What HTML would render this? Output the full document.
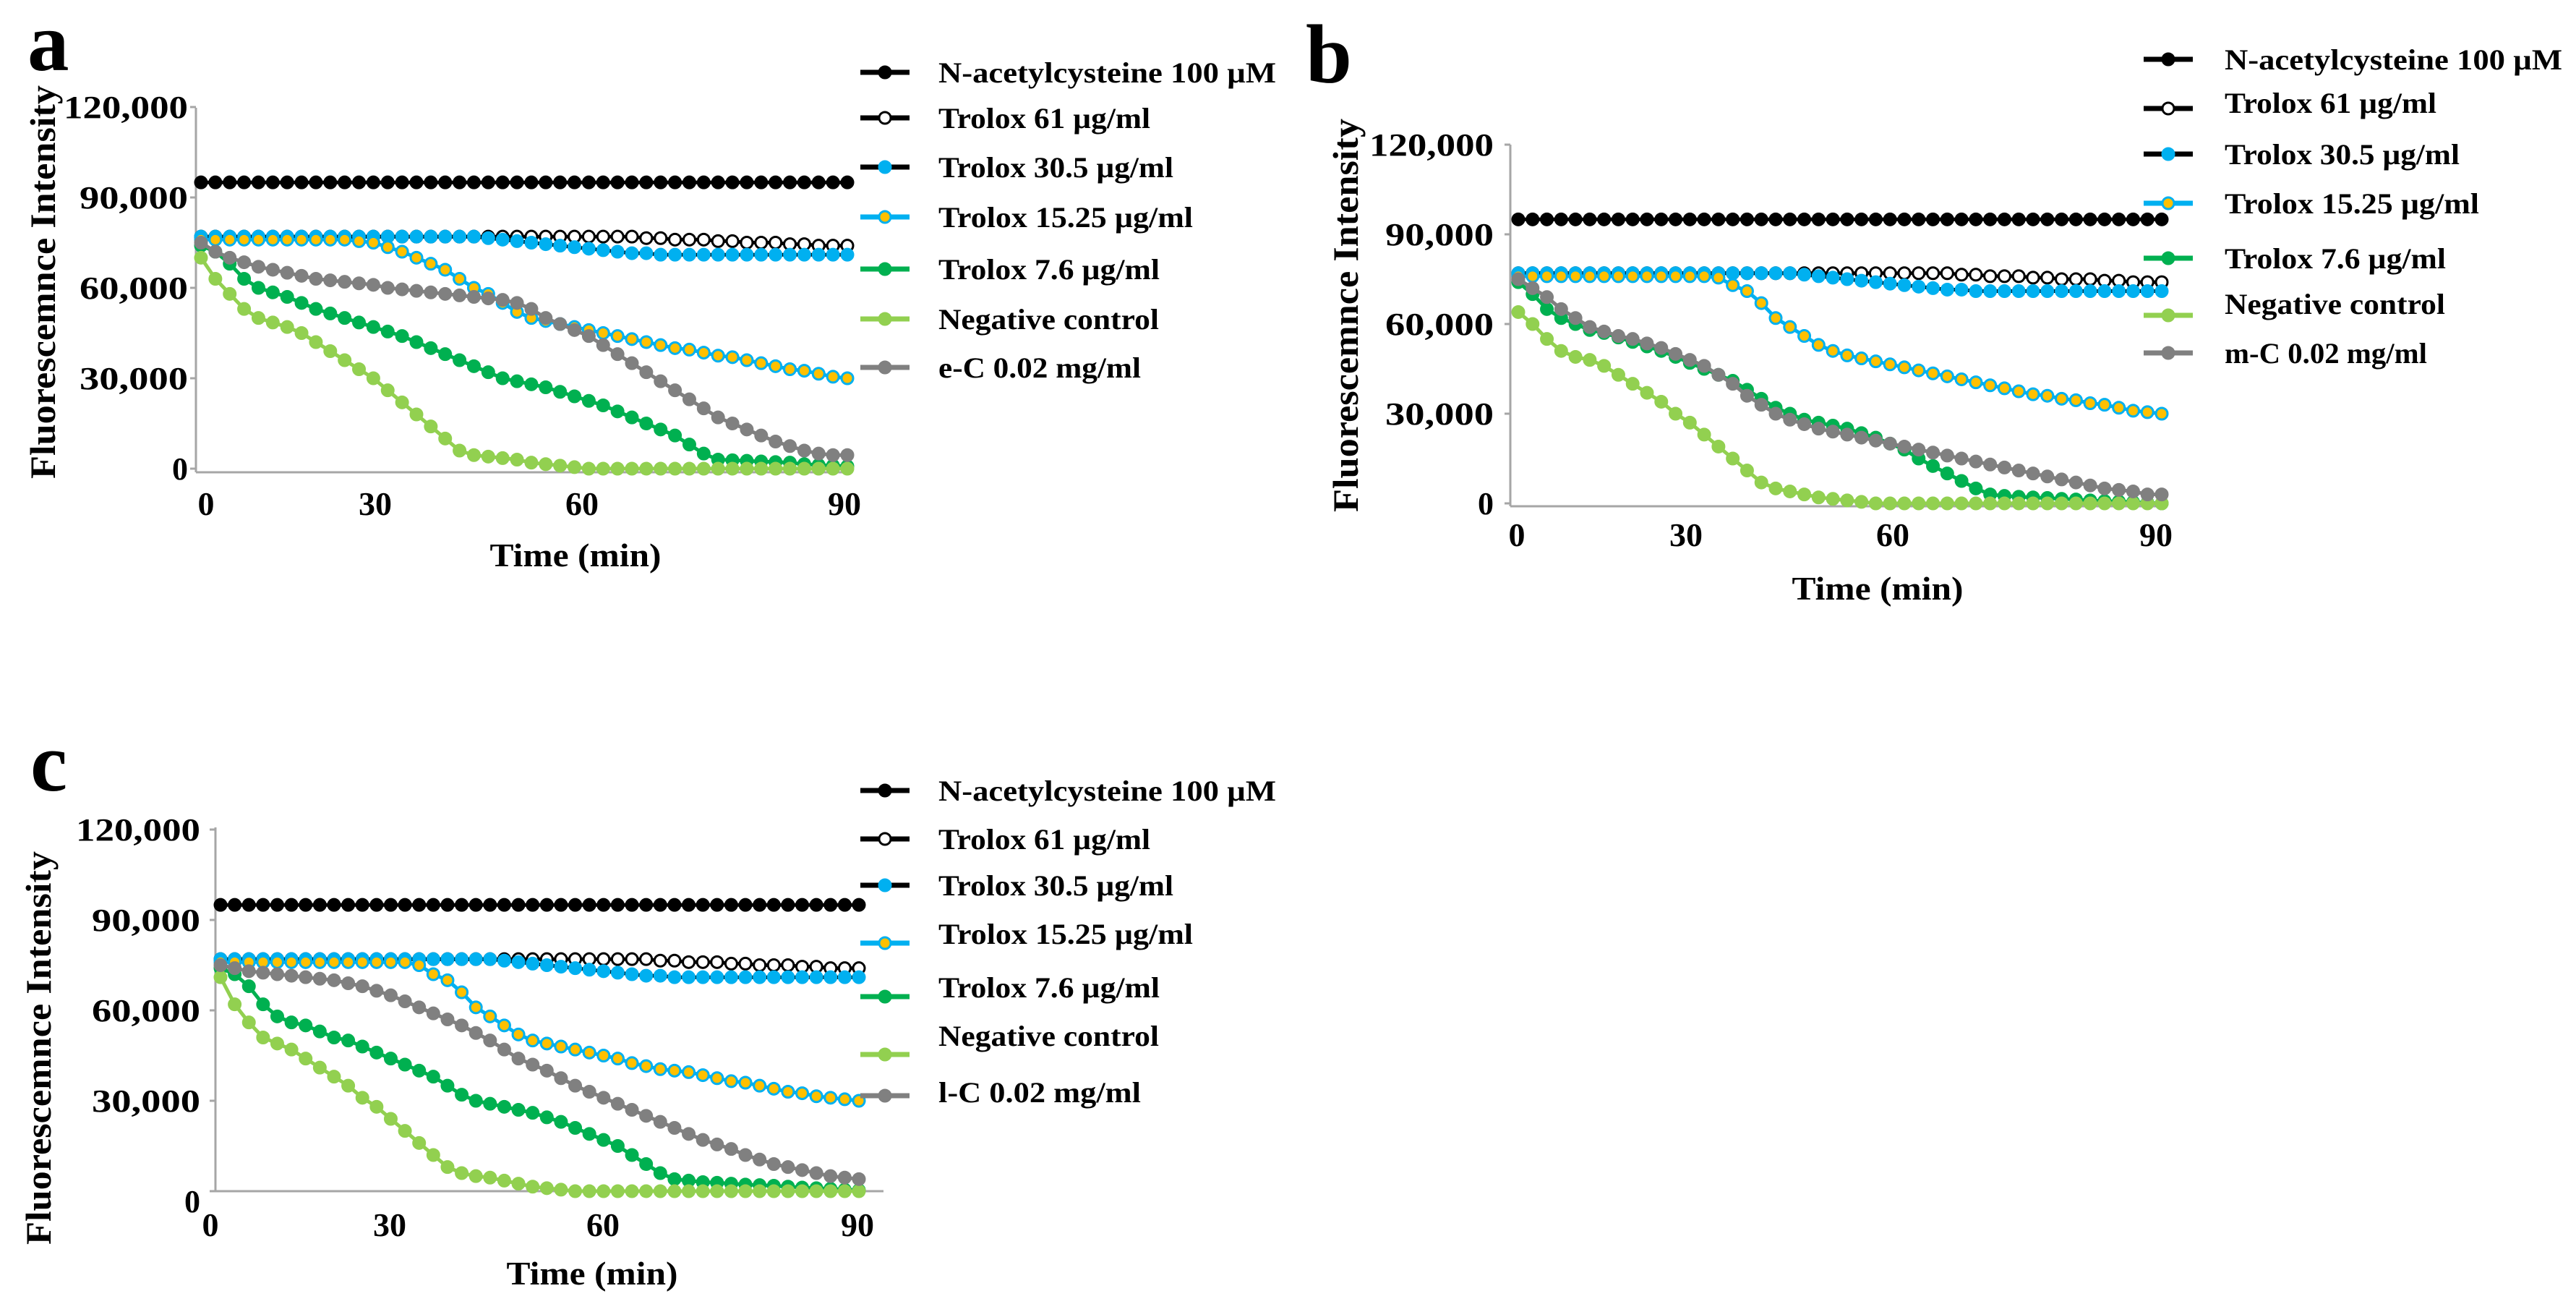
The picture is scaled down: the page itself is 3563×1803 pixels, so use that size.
<!DOCTYPE html>
<html><head><meta charset="utf-8">
<style>
html,body{margin:0;padding:0;background:#fff;}
svg{display:block;}
text{font-family:"Liberation Serif",serif;font-weight:bold;fill:#000;}
</style></head>
<body>
<svg id="fig" width="3563" height="1803" viewBox="0 0 3563 1803" xmlns="http://www.w3.org/2000/svg">
<rect width="3563" height="1803" fill="#fff"/>
</svg>
<script>
const times = [0,2,4,6,8,10,12,14,16,18,20,22,24,26,28,30,32,34,36,38,40,42,44,46,48,50,52,54,56,58,60,62,64,66,68,70,72,74,76,78,80,82,84,86,88,90];
const yTicks = [0,30000,60000,90000,120000];
const yTickLabels = ["0","30,000","60,000","90,000","120,000"];
const xTickLabels = ["0","30","60","90"];
const seriesNames = ["N-acetylcysteine 100 µM","Trolox 61 µg/ml","Trolox 30.5 µg/ml","Trolox 15.25 µg/ml","Trolox 7.6 µg/ml","Negative control"];
const sampleNames = ["e-C 0.02 mg/ml","m-C 0.02 mg/ml","l-C 0.02 mg/ml"];

// values in thousands
const nac = [95,95,95,95,95,95,95,95,95,95,95,95,95,95,95,95,95,95,95,95,95,95,95,95,95,95,95,95,95,95,95,95,95,95,95,95,95,95,95,95,95,95,95,95,95,95];
const t61 = [77,77,77,77,77,77,77,77,77,77,77,77,77,77,77,77,77,77,77,77,77,77,77,77,77,77,77,77,77,77,77,76.5,76.5,76,76,76,75.5,75.5,75,75,75,74.5,74.5,74,74,74];
const t305 = [77,77,77,77,77,77,77,77,77,77,77,77,77,77,77,77,77,77,77,77,76.5,76,75.5,75,74.5,74,73.5,73,72.5,72,71.5,71.5,71,71,71,71,71,71,71,71,71,71,71,71,71,71];
const a_t1525 = [76,76,76,76,76,76,76,76,76,76,76,75.5,75,73.5,72,70,68,66,63,60,58,55,52,50,49,48,47,46,45,44,43,42,41,40,39.5,38.5,37.5,37,36,35,34,33,32.5,31.5,30.5,30];
const a_t76 = [74,72,68,63,60,58.5,57,55,53,51.5,50,48.5,47,45.5,44,42,40,38,36,34,32,30,29,28,27,25.5,24,22.5,21,19,17,15,13,11,8,5,3,2.8,2.6,2.4,2.2,2,1.5,1.2,1,0.8];
const a_neg = [70,63,58,53,50,48.5,47,45,42,39,36,33,30,26,22,18,14,10,6,4.5,4,3.5,3,2,1.5,1,0.5,0,0,0,0,0,0,0,0,0,0,0,0,0,0,0,0,0,0,0];
const a_sample = [75,72,70,68.5,67,66,65,64,63,62.5,62,61.5,61,60,59.5,59,58.5,58,57.5,57,56.5,56,55,53,50,48,46,44,41,38,35,32,29,26,23,20,17,15,13,11,9,7.5,6,5,4.5,4.5];
const b_t1525 = [76,76,76,76,76,76,76,76,76,76,76,76,76,76,75.5,73,71,67,62,59,56,53,51,49.5,48.5,47.5,46.5,45.5,44.5,43.5,42.5,41.5,40.5,39.5,38.5,37.5,36.5,36,35,34.5,33.5,33,32,31,30.5,30];
const b_t76 = [74,70,65,62,60,58,57,55.5,54,52.5,51,49,47,45,43,41,38,35,32,30,28,27,26,25,23.5,22,20,18,15,12.5,10,7.5,5,3,2.5,2.2,2,1.8,1.5,1.3,1,0.8,0.6,0.4,0.2,0];
const b_neg = [64,60,55,51,49,48,46,43,40,37,34,30,27,23,19,15,11,7,5,4,3,2,1.5,1,0.5,0,0,0,0,0,0,0,0,0,0,0,0,0,0,0,0,0,0,0,0,0];
const b_sample = [75,72,69,65,62,59,57.5,56,55,53.5,52,50,48,46,43,40,36,33,30,28,26.5,25,24,23,22,21,20,19,18,17,16,15,14,13,12,11,10,9,8,7,6,5,4.5,4,3,3];
const c_t1525 = [76,76,76,76,76,76,76,76,76,76,76,76,76,76,75,72,70,66,61,58,55,52,50,49,48,47,46,45,44,42.5,41.5,40.5,40,39.5,38.5,37.5,36.5,36,35,34,33,32.5,31.5,31,30.5,30];
const c_t76 = [74,72,68,62,58,56,55,53,51,50,48,46,44,42,40,38,35,32,30,29,28,27,26,24.5,23,21,19,17,15,12,9,6,4,3.5,3,2.8,2.5,2.2,2,1.8,1.5,1.2,1,0.8,0.5,0.3];
const c_neg = [71,62,56,51,49,47,44,41,38,35,31,28,24,20,16,12,8,6,5,4.5,3.5,2.5,1.5,1,0.5,0,0,0,0,0,0,0,0,0,0,0,0,0,0,0,0,0,0,0,0,0];
const c_sample = [75,74,73,72.5,72,71.5,71,70.5,70,69,68,66.5,65,63,61,59,57,55,52.5,50,47,44,42,40,37.5,35,33,31,29,27,25,23,21,19,17,15.5,14,12,10.5,9,8,7,6,5,4.5,4];

const NS = "http://www.w3.org/2000/svg";
const svg = document.getElementById("fig");
function mk(tag, attrs, parent){
  const e = document.createElementNS(NS, tag);
  for (const k in attrs) e.setAttribute(k, attrs[k]);
  (parent||svg).appendChild(e);
  return e;
}
const styles = [
  {line:"#000", fill:"#000", stroke:"#000"},
  {line:"#000", fill:"#fff", stroke:"#000"},
  {line:"#000", fill:"#00b0f0", stroke:"#00b0f0"},
  {line:"#00b0f0", fill:"#ffc000", stroke:"#00b0f0"},
  {line:"#00b050", fill:"#00b050", stroke:"#00b050"},
  {line:"#92d050", fill:"#92d050", stroke:"#92d050"},
  {line:"#808080", fill:"#808080", stroke:"#808080"}
];
const panels = [
  {id:"a", letterX:38, letterY:97, axisX:271, axisTop:149, axisY:653, axisRight:1175, x0:278, x1:1172, y0:648, per:125,
   tickRight:260, zeroOff:0, xLabX:[285,519,805,1168], xLabY:712, titleX:60, titleY:390, timeX:796, timeY:783,
   legMx:1190, legTx:1298, legMy:[100,163,231,300,372,441,508], legTy:[100,163,231,300,372,441,508],
   data:[nac,t61,t305,a_t1525,a_t76,a_neg,a_sample], sample:0},
  {id:"b", letterX:1806, letterY:114, axisX:2089, axisTop:200, axisY:700, axisRight:2992, x0:2100, x1:2990, y0:696, per:124,
   tickRight:2066, zeroOff:0, xLabX:[2098,2332,2618,2982], xLabY:755, titleX:1862, titleY:436, timeX:2597, timeY:829,
   legMx:2965, legTx:3077, legMy:[82,150,213,281,357,436,488], legTy:[82,142,213,281,357,420,488],
   data:[nac,t61,t305,b_t1525,b_t76,b_neg,b_sample], sample:1},
  {id:"c", letterX:42, letterY:1093, axisX:298, axisTop:1144, axisY:1647, axisRight:1222, x0:305, x1:1188, y0:1647, per:125,
   tickRight:277, zeoOff:0, zeroOff:14, xLabX:[291,539,834,1186], xLabY:1709, titleX:54, titleY:1449, timeX:819, timeY:1776,
   legMx:1190, legTx:1298, legMy:[1093,1160,1224,1304,1378,1458,1515], legTy:[1093,1160,1224,1291,1365,1432,1510],
   data:[nac,t61,t305,c_t1525,c_t76,c_neg,c_sample], sample:2}
];
const legW = [467,293,325,352,306,305,280];

panels.forEach(p => {
  const g = mk("g", {});
  
  
  const xs = t => p.x0 + (t/90)*(p.x1 - p.x0);
  const ys = v => p.y0 - (v*1000/30000)*p.per;

  const letter = mk("text", {x:p.letterX, y:p.letterY, "font-size":115}, g);
  letter.textContent = p.id;
  
  

  const ya = mk("line", {x1:p.axisX, y1:p.axisTop, x2:p.axisX, y2:p.axisY, stroke:"#a6a6a6", "stroke-width":3}, g);
  
  
  const xa = mk("line", {x1:p.axisX, y1:p.axisY, x2:p.axisRight, y2:p.axisY, stroke:"#a6a6a6", "stroke-width":3}, g);
  
  

  yTicks.forEach((v,i) => {
    const y = p.y0 - (v/30000)*p.per;
    const tk = mk("line", {x1:p.axisX-8, y1:y, x2:p.axisX, y2:y, stroke:"#a6a6a6", "stroke-width":3}, g);
    
    
    const lb = yTickLabels[i];
    const attrs = {x:p.tickRight, y:y+15+(v===0?p.zeroOff:0), "font-size":44, "text-anchor":"end"};
    if (lb.length > 1) { attrs.textLength = lb.length === 7 ? 172 : 150; attrs.lengthAdjust = "spacingAndGlyphs"; }
    const t = mk("text", attrs, g);
    t.textContent = lb;
    
    
  });
  xTickLabels.forEach((lb,i) => {
    const t = mk("text", {x:p.xLabX[i], y:p.xLabY, "font-size":46, "text-anchor":"middle"}, g);
    t.textContent = lb;
    
    
  });
  const yt = mk("text", {x:0, y:0, "font-size":50, "text-anchor":"middle", textLength:544, lengthAdjust:"spacingAndGlyphs",
    transform:`translate(${p.titleX+16},${p.titleY}) rotate(-90)`}, g);
  yt.textContent = "Fluorescemnce Intensity";
  
  
  const xt = mk("text", {x:p.timeX, y:p.timeY, "font-size":46, "text-anchor":"middle", textLength:237, lengthAdjust:"spacingAndGlyphs"}, g);
  xt.textContent = "Time (min)";
  
  

  p.data.forEach((vals, si) => {
    const st = styles[si];
    const sg = mk("g", {}, g);
    
    
    const pts = vals.map((v,i) => xs(times[i]).toFixed(1) + "," + ys(v).toFixed(1)).join(" ");
    const pl = mk("polyline", {points:pts, fill:"none", stroke:st.line, "stroke-width":5}, sg);
    
    
    vals.forEach((v,i) => {
      const c = mk("circle", {cx:xs(times[i]), cy:ys(v), r:8, fill:st.fill, stroke:st.stroke, "stroke-width":3}, sg);
      
      
    });
  });

  const names = seriesNames.concat([sampleNames[p.sample]]);
  names.forEach((nm, i) => {
    const st = styles[i];
    const lg = mk("g", {}, g);
    
    
    const my = p.legMy[i];
    mk("line", {x1:p.legMx, y1:my, x2:p.legMx+68, y2:my, stroke:st.line, "stroke-width":7}, lg);
    mk("circle", {cx:p.legMx+34, cy:my, r:8, fill:st.fill, stroke:st.stroke, "stroke-width":3}, lg);
    const t = mk("text", {x:p.legTx, y:p.legTy[i]+14, "font-size":40, textLength:legW[i], lengthAdjust:"spacingAndGlyphs"}, lg);
    t.textContent = nm;
    
    
  });
});
</script>
</body></html>
